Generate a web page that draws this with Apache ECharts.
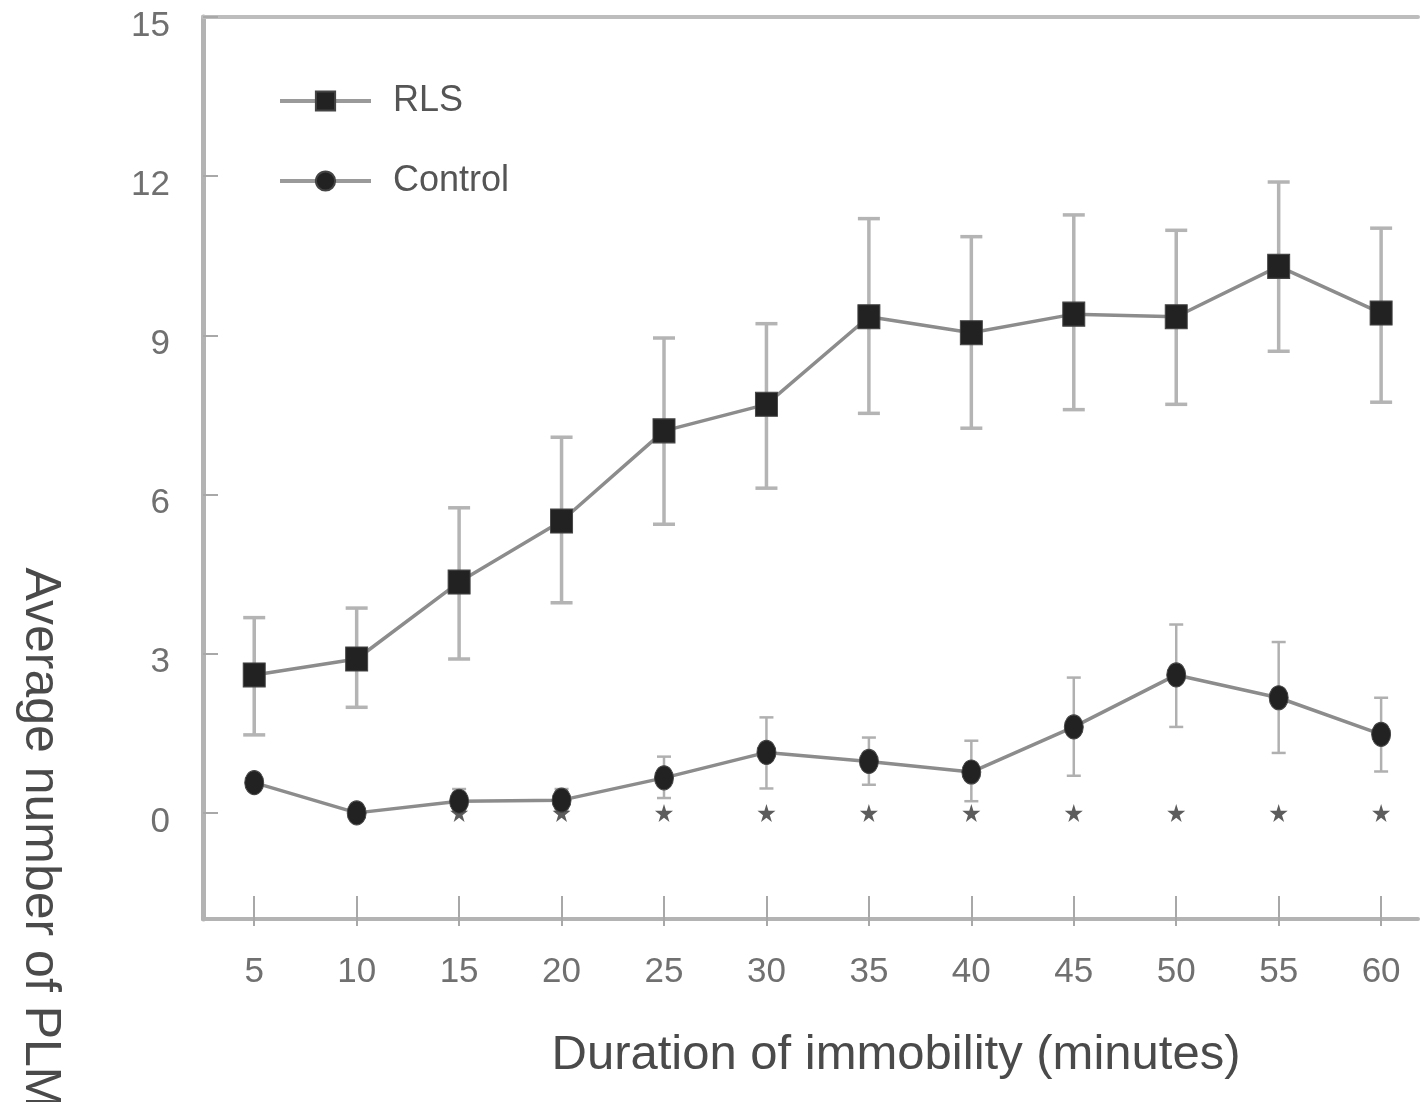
<!DOCTYPE html>
<html>
<head>
<meta charset="utf-8">
<script src="https://cdn.jsdelivr.net/npm/echarts@6/dist/echarts.min.js"></script>
<style>
html,body{margin:0;padding:0;background:#fff;}
#chart{width:1420px;height:1102px;}
</style>
</head>
<body>
<div id="chart"></div>
<script>
const minutes = [5, 10, 15, 20, 25, 30, 35, 40, 45, 50, 55, 60];
const xTicks = [5, 10, 15, 20, 25, 30, 35, 40, 45, 50, 55, 60];
const yTicks = [0, 3, 6, 9, 12, 15];
const rlsMean  = [2.6, 2.9, 4.35, 5.5, 7.2, 7.7, 9.35, 9.05, 9.4, 9.35, 10.3, 9.42];
const rlsUpper = [3.68, 3.86, 5.75, 7.08, 8.95, 9.22, 11.2, 10.86, 11.27, 10.98, 11.89, 11.02];
const rlsLower = [1.47, 1.99, 2.9, 3.96, 5.44, 6.12, 7.53, 7.25, 7.6, 7.7, 8.7, 7.74];
const ctlMean  = [0.57, 0.0, 0.22, 0.24, 0.66, 1.14, 0.97, 0.77, 1.62, 2.6, 2.17, 1.48];
const ctlUpper = [null, null, 0.45, 0.45, 1.06, 1.8, 1.42, 1.36, 2.55, 3.55, 3.22, 2.17];
const ctlLower = [null, null, 0.05, 0.05, 0.28, 0.46, 0.53, 0.22, 0.7, 1.62, 1.13, 0.78];
const starMinutes = [15, 20, 25, 30, 35, 40, 45, 50, 55, 60];
const starLevel = 0;

const chart = echarts.init(document.getElementById('chart'));

function errData(lo, hi) {
  const out = [];
  minutes.forEach((m, i) => { if (lo[i] != null && hi[i] != null) out.push([m, lo[i], hi[i]]); });
  return out;
}
function errRender(color, capW, lw) {
  return function (params, api) {
    const x = api.value(0);
    const pLo = api.coord([x, api.value(1)]);
    const pHi = api.coord([x, api.value(2)]);
    const st = { stroke: color, lineWidth: lw };
    return {
      type: 'group',
      children: [
        { type: 'line', shape: { x1: pLo[0], y1: pLo[1], x2: pHi[0], y2: pHi[1] }, style: st },
        { type: 'line', shape: { x1: pHi[0] - capW / 2, y1: pHi[1], x2: pHi[0] + capW / 2, y2: pHi[1] }, style: st },
        { type: 'line', shape: { x1: pLo[0] - capW / 2, y1: pLo[1], x2: pLo[0] + capW / 2, y2: pLo[1] }, style: st }
      ]
    };
  };
}

const star = 'path://M50,0 L61,35 L98,35 L68,57 L79,91 L50,70 L21,91 L32,57 L2,35 L39,35 Z';
const font = '"Liberation Sans", Arial, sans-serif';

const legendCommon = {
  orient: 'vertical', left: 273, itemWidth: 91, itemHeight: 24,
  lineStyle: { width: 4, color: '#9a9a9a' },
  textStyle: { fontFamily: font, fontSize: 36, color: '#555', padding: [0, 0, 0, 17] }
};

chart.setOption({
  animation: false,
  backgroundColor: '#fff',
  grid: { left: 203, right: 2, top: 17, bottom: 183 },
  legend: [
    Object.assign({ data: ['RLS'], top: 78 }, legendCommon),
    Object.assign({ data: ['Control'], top: 158 }, legendCommon)
  ],
  xAxis: [
    {
      type: 'value', min: 2.5, max: 61.8, position: 'bottom',
      splitLine: { show: false },
      axisLine: { onZero: false, lineStyle: { color: '#b3b3b3', width: 4 } },
      axisTick: { inside: true, length: 23, customValues: xTicks, lineStyle: { color: '#a8a8a8', width: 2 } },
      axisLabel: { customValues: xTicks, margin: 36, fontFamily: font, fontSize: 35, color: '#707070' }
    },
    {
      type: 'value', min: 2.5, max: 61.8, position: 'bottom',
      splitLine: { show: false },
      axisLine: { show: false, onZero: false },
      axisTick: { inside: false, length: 7, customValues: xTicks, lineStyle: { color: '#a8a8a8', width: 2 } },
      axisLabel: { show: false }
    },
    {
      type: 'value', min: 2.5, max: 61.8, position: 'top',
      splitLine: { show: false },
      axisLine: { onZero: false, lineStyle: { color: '#bdbdbd', width: 4 } },
      axisTick: { show: false }, axisLabel: { show: false }
    }
  ],
  yAxis: {
    type: 'value', min: -2, max: 15,
    splitLine: { show: false },
    axisLine: { show: true, onZero: false, lineStyle: { color: '#b3b3b3', width: 5 } },
    axisTick: { show: true, inside: true, length: 15, customValues: yTicks, lineStyle: { color: '#a8a8a8', width: 2 } },
    axisLabel: {
      customValues: yTicks, margin: 33, fontFamily: font, fontSize: 35, color: '#707070',
      verticalAlign: 'top', lineHeight: 18
    }
  },
  graphic: [
    {
      type: 'text', x: 40, y: 838, rotation: -Math.PI / 2,
      style: {
        text: 'Average number of PLM', fontFamily: font, fontSize: 50, fill: '#4a4a4a',
        align: 'center', verticalAlign: 'middle'
      }
    },
    {
      type: 'text', x: 896, y: 1055,
      style: {
        text: 'Duration of immobility (minutes)', fontFamily: font, fontSize: 49, fill: '#4a4a4a',
        align: 'center', verticalAlign: 'middle'
      }
    }
  ],
  series: [
    {
      type: 'custom', name: 'rlsErr', xAxisIndex: 0, data: errData(rlsLower, rlsUpper),
      renderItem: errRender('#b4b4b4', 22, 3.5), z: 1, silent: true
    },
    {
      type: 'custom', name: 'ctlErr', xAxisIndex: 0, data: errData(ctlLower, ctlUpper),
      renderItem: errRender('#b0b0b0', 14, 2.5), z: 1, silent: true
    },
    {
      type: 'line', name: 'RLS', xAxisIndex: 0,
      data: minutes.map((m, i) => [m, rlsMean[i]]),
      symbol: 'rect', symbolSize: [22, 24],
      lineStyle: { color: '#8c8c8c', width: 3.5 },
      itemStyle: { color: '#222', borderColor: '#444', borderWidth: 1 },
      z: 3
    },
    {
      type: 'line', name: 'Control', xAxisIndex: 0,
      data: minutes.map((m, i) => [m, ctlMean[i]]),
      symbol: 'circle', symbolSize: [19, 24],
      lineStyle: { color: '#8c8c8c', width: 3.5 },
      itemStyle: { color: '#222', borderColor: '#444', borderWidth: 1 },
      z: 3
    },
    {
      type: 'scatter', name: 'sig', xAxisIndex: 0,
      data: starMinutes.map(m => [m, starLevel]),
      symbol: star, symbolSize: 18,
      itemStyle: { color: '#333' }, z: 2
    }
  ]
});
</script>
</body>
</html>
